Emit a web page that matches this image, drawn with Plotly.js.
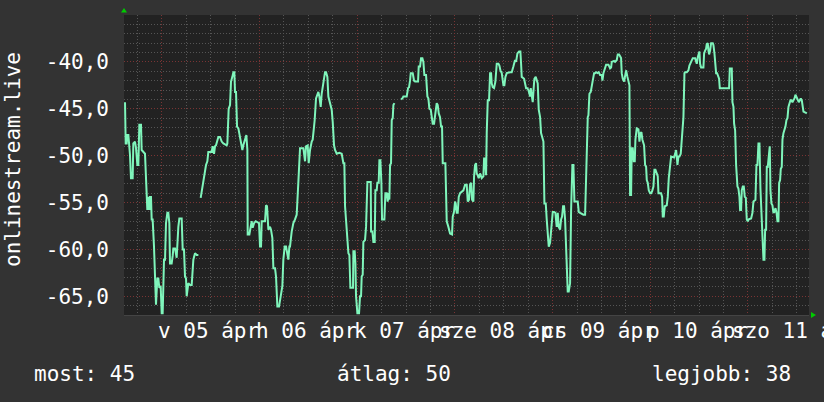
<!DOCTYPE html>
<html>
<head>
<meta charset="utf-8">
<script src="https://cdn.plot.ly/plotly-3.0.1.min.js"></script>
<style>html,body{margin:0;padding:0;background:#333333;}#chart{width:824px;height:402px;}</style>
</head>
<body>
<div id="chart"></div>
<script>
// Hours counted from 2024-04-04 00:00 (local), values in dBm
const day1Hours = [14.95,15.11,15.36,15.52,15.77,15.93,16.17,16.42,16.83,16.99,17.40,17.65,17.98,18.22,18.47,18.88,19.04,19.86,20.11,20.43,20.68,20.93,21.09,21.33,21.50,21.74,22.07,22.32,22.56,22.89,23.14,23.38,23.71,23.96,24.20,24.53,24.78,25.02,25.35,25.59,25.84,26.00,26.41,26.66,26.82,27.23,27.48,27.64,28.05,28.30,28.87,29.12,29.44,29.69,29.94,30.10,30.51,30.92,31.33,31.74,32.15,32.56,32.97];
const day1Values = [-44.3,-48.7,-48.7,-47.8,-47.8,-48.7,-49.9,-52.4,-52.4,-48.7,-48.5,-49.2,-51.0,-51.0,-46.7,-46.7,-49.4,-49.8,-52.2,-55.8,-54.4,-55.8,-54.4,-54.4,-56.8,-56.8,-59.7,-62.9,-65.9,-63.1,-63.1,-64.1,-63.9,-66.8,-66.8,-61.1,-61.1,-57.2,-56.1,-56.1,-57.2,-61.5,-61.5,-60.7,-59.9,-59.9,-60.9,-60.9,-57.6,-56.7,-56.7,-60.0,-60.0,-62.9,-63.1,-65.0,-63.6,-63.8,-63.8,-61.1,-60.4,-60.6,-60.6];

const day2Hours = [33.54,34.03,34.36,34.85,35.18,35.42,36.24,36.49,36.82,37.06,37.31,37.64,37.88,38.29,38.70,39.11,39.93,40.09,40.42,40.75,40.99,41.32,41.57,41.81,41.98,42.22,42.47,42.80,43.20,43.45,43.78,44.02,44.43,44.76,45.01,45.09,45.50,45.66,46.07,46.32,46.65,47.05,47.87,48.12,48.37,48.53,49.35,49.59,49.84,50.17,50.58,50.82,51.15,51.40,51.81,52.05,52.38,52.79,53.20,53.61,53.85,54.18,54.51,54.84,55.08,55.33,55.49,55.90,56.31,56.72,57.13,57.54,57.95,58.77,59.18,59.42,59.83,60.08,60.41,60.82,61.06,61.39,61.55,61.88,62.21,62.45,62.70,63.03,63.27,63.68,64.09,64.34,64.67,64.91,65.32,65.73,65.98,66.30,66.55,66.96,67.61];
const day2Values = [-54.5,-53.1,-51.9,-51.0,-50.6,-49.6,-49.6,-49.0,-49.8,-49.0,-48.9,-48.5,-48.0,-48.0,-48.5,-48.7,-48.9,-48.7,-45.0,-44.6,-42.1,-41.6,-41.1,-41.1,-43.2,-43.2,-46.9,-47.1,-48.2,-48.7,-49.4,-48.9,-48.3,-47.8,-49.4,-58.4,-58.4,-57.9,-57.0,-57.7,-57.2,-57.0,-57.2,-59.7,-59.7,-57.0,-57.0,-55.3,-55.4,-57.9,-57.6,-57.9,-58.8,-62.0,-62.0,-62.9,-66.1,-66.1,-65.0,-63.9,-61.1,-59.7,-59.7,-60.4,-61.1,-59.7,-59.7,-58.1,-57.2,-56.8,-56.3,-52.8,-49.2,-49.2,-50.6,-49.0,-48.9,-50.8,-49.4,-48.5,-48.3,-46.9,-46.2,-43.9,-43.5,-43.2,-43.7,-44.8,-43.4,-42.0,-41.1,-41.1,-41.6,-43.7,-44.3,-45.1,-46.4,-48.9,-49.4,-49.8,-49.7];

const day3Hours = [68.19,68.60,68.84,69.01,69.42,69.83,70.07,70.32,70.97,71.06,71.38,71.55,71.71,72.04,72.45,72.69,72.94,73.10,73.35,73.51,73.92,74.17,74.50,75.32,75.40,75.73,75.97,76.30,76.46,76.79,76.95,77.28,77.45,77.69,77.94,78.10,78.67,78.92,79.25,79.49,79.74,79.90,80.07,80.31,80.48,80.72,80.89,81.13];
const day3Values = [-49.8,-50.8,-50.8,-55.4,-58.1,-60.4,-60.6,-64.1,-64.1,-60.2,-60.2,-61.5,-65.0,-66.8,-66.8,-65.0,-65.0,-62.9,-62.7,-59.2,-59.0,-57.6,-52.8,-52.8,-58.1,-58.1,-59.2,-59.2,-53.7,-53.7,-52.9,-52.9,-50.5,-50.5,-52.9,-56.8,-56.8,-54.0,-54.0,-54.9,-54.0,-54.7,-51.0,-50.8,-46.2,-46.0,-44.6,-44.4];

const day4Hours = [82.77,83.10,83.34,84.16,84.49,84.74,84.98,85.15,85.64,85.96,86.21,86.95,87.11,87.44,87.68,88.01,88.26,88.50,88.91,89.24,89.49,89.73,90.06,90.31,90.55,90.88,91.12,91.37,91.53,91.78,92.03,92.35,92.60,92.84,93.01,93.66,93.99,94.40,94.81,95.30,95.47,95.79,96.04,96.20,96.45,96.69,96.94,97.27,98.09,98.50,98.91,99.15,99.48,99.72,99.97,100.22,100.54,100.71,100.95,101.20,101.36,101.61,101.85,102.18,102.59,103.00,103.17,103.41,103.66,103.82,104.07,104.39,104.64,104.89,105.05,105.30,105.62,105.95];
const day4Values = [-44.0,-43.9,-43.7,-43.7,-42.8,-42.7,-42.0,-41.2,-41.2,-42.0,-42.1,-42.1,-40.5,-40.5,-39.6,-39.6,-40.0,-41.4,-41.4,-43.7,-43.9,-45.0,-45.1,-45.9,-46.6,-46.6,-45.5,-45.1,-44.4,-44.6,-45.5,-45.9,-46.9,-46.9,-50.8,-50.8,-57.0,-57.6,-58.3,-58.4,-56.5,-56.0,-54.9,-55.1,-56.1,-56.1,-54.4,-54.0,-53.7,-53.1,-53.1,-54.9,-54.7,-53.1,-52.9,-54.7,-54.9,-52.2,-51.0,-50.8,-51.9,-52.1,-52.4,-51.9,-52.4,-52.2,-50.3,-50.3,-52.1,-47.6,-44.1,-44.1,-41.2,-41.2,-42.3,-42.7,-42.8,-42.1];

const day5Hours = [106.28,106.69,106.93,107.18,107.51,107.92,108.16,108.41,108.74,109.56,109.96,110.37,110.78,111.03,111.36,111.77,112.09,112.26,112.42,113.00,113.24,113.49,113.81,114.06,114.31,114.47,114.63,114.88,115.12,115.37,115.53,115.86,116.11,116.35,116.60,116.93,117.17,117.50,117.75,117.99,118.32,118.56,118.81,119.06,119.38,119.63,119.87,120.04,120.37,120.69,121.02,121.27,121.51,121.84,122.09,122.33,122.58,122.82,123.07,123.31,123.48,123.72,123.97,124.13,124.30,124.55,124.87,125.12,125.36,126.18,126.43,126.76,127.58,127.99];
const day5Values = [-40.2,-40.2,-40.4,-40.9,-41.2,-42.5,-42.5,-41.6,-41.2,-41.1,-41.1,-40.5,-39.8,-40.0,-39.1,-38.9,-38.9,-40.2,-41.6,-41.8,-42.5,-42.8,-42.8,-43.0,-43.4,-43.7,-42.8,-43.9,-44.3,-42.7,-41.8,-41.6,-42.1,-42.3,-45.1,-45.9,-47.6,-48.0,-48.5,-55.1,-55.1,-56.8,-57.9,-59.7,-59.3,-57.9,-56.3,-56.0,-56.0,-56.1,-57.6,-56.1,-57.6,-57.9,-56.8,-56.5,-55.4,-55.4,-56.8,-59.7,-63.2,-64.5,-64.5,-63.6,-63.6,-55.8,-51.0,-51.0,-54.9,-54.9,-56.0,-56.1,-56.3,-56.3];

const day6Hours = [128.23,128.40,128.64,128.81,129.05,129.38,129.62,129.87,130.20,130.44,130.69,131.02,131.34,131.67,132.08,132.25,132.49,132.90,133.15,133.72,133.97,134.13,134.38,134.54,135.11,135.36,135.77,136.01,136.34,136.59,136.83,136.99,137.24,137.57,137.82,138.06,138.39,138.63,138.88,139.04,139.29,139.45,139.70,139.94,140.19,140.35,140.68,141.09,141.34,141.58,141.83,142.07,142.32,142.48,142.73,142.98,143.14,143.39,143.63,143.96,144.20,144.45,144.78,145.02,145.27,145.60,145.84,146.01,146.66,146.91,147.07,147.32,147.56,148.05,148.30,148.55,148.87,149.12,149.86,150.10,150.35,150.51,150.68,150.92,151.17,151.49,151.74,151.99,152.15];
const day6Values = [-51.2,-51.0,-45.9,-45.7,-43.4,-43.2,-42.3,-42.0,-41.2,-41.2,-41.1,-41.2,-41.1,-41.4,-41.4,-42.0,-41.2,-40.7,-40.3,-40.3,-40.5,-40.7,-40.6,-40.0,-39.9,-40.0,-39.8,-39.2,-39.2,-39.4,-39.6,-41.2,-41.8,-42.1,-41.6,-40.9,-41.6,-42.3,-42.5,-54.2,-54.2,-49.2,-49.2,-50.6,-50.6,-48.3,-47.1,-47.2,-48.5,-47.6,-47.5,-48.3,-48.9,-48.9,-51.0,-51.2,-52.6,-52.9,-53.7,-54.0,-54.0,-53.8,-53.3,-51.5,-51.5,-51.9,-52.2,-54.0,-54.0,-54.4,-56.5,-56.5,-55.4,-55.3,-54.4,-52.4,-50.8,-50.1,-50.2,-49.6,-49.4,-50.1,-51.0,-50.1,-50.1,-49.8,-48.3,-46.0,-45.9];

const day7Hours = [152.40,152.56,152.97,153.38,153.62,153.95,154.20,154.44,155.02,155.26,155.43,155.67,155.92,156.08,156.24,156.49,157.06,157.23,157.47,157.72,157.88,158.13,158.29,158.46,158.70,158.95,159.36,159.52,159.77,160.01,160.18,160.42,160.67,160.91,161.08,161.32,163.37,163.54,164.03,164.19,164.44,164.60,164.85,165.09,165.42,165.66,165.91,166.07,166.32,166.48,166.73,166.98,167.22,167.47,167.71,167.96,168.20,168.78,169.11,169.35,169.84,170.09,170.33,170.58,170.83,171.07,171.32,171.56,171.81,172.05,172.22,172.46,172.63,172.87,173.12,173.36,173.53,173.77,174.02,174.27,174.51,174.76,175.00,175.25,175.49,175.66,175.90,176.07,176.31,176.48,176.72,176.97,177.21,177.46,177.71,177.95,178.20,178.44,178.69,178.93,179.18,179.43,179.67,180.00,180.25,180.49,180.74,180.98,181.23,181.47,181.64,182.13,182.46];
const day7Values = [-41.2,-41.1,-41.1,-40.9,-40.4,-40.0,-39.8,-39.6,-39.6,-40.2,-40.2,-39.5,-38.9,-38.9,-40.2,-40.6,-40.6,-39.1,-38.8,-38.6,-38.1,-38.0,-38.8,-39.2,-38.8,-38.0,-38.0,-38.2,-39.1,-40.2,-41.2,-41.2,-41.6,-41.8,-42.8,-42.8,-42.8,-40.7,-40.7,-44.3,-44.8,-46.6,-47.3,-51.0,-53.3,-53.5,-54.4,-55.8,-55.8,-53.7,-53.3,-53.3,-54.4,-54.5,-56.8,-57.0,-56.8,-56.7,-56.1,-54.9,-54.7,-51.0,-51.0,-48.7,-48.7,-53.5,-56.5,-60.0,-61.1,-61.1,-57.9,-57.9,-51.2,-51.2,-49.8,-49.0,-53.7,-55.1,-55.3,-56.1,-56.0,-55.6,-56.0,-57.0,-57.0,-52.9,-52.6,-51.4,-51.2,-48.3,-47.6,-47.3,-46.9,-46.2,-46.0,-44.8,-44.4,-44.1,-44.1,-44.3,-44.1,-43.9,-43.5,-43.9,-44.1,-44.3,-44.1,-43.9,-44.1,-45.0,-45.3,-45.4,-45.5];

// Gaps (no data) between these hours
const gapHours = [33.25, 82.0];

const yTickVals = [-65, -60, -55, -50, -45, -40];
const yTickText = ["-65,0", "-60,0", "-55,0", "-50,0", "-45,0", "-40,0"];
const dayNoonHours = [36, 60, 84, 108, 132, 156, 180];
const dayLabels = ["v 05 ápr", "h 06 ápr", "k 07 ápr", "sze 08 ápr", "cs 09 ápr", "p 10 ápr", "szo 11 ápr"];
const yTitle = "onlinestream.live";
const summaryLabels = ["most: 45", "átlag: 50", "legjobb: 38"];

// assemble series with null breaks at gaps
const xs = [], ys = [];
function add(h, v) { for (let i = 0; i < h.length; i++) { xs.push(h[i]); ys.push(v[i]); } }
add(day1Hours, day1Values);
xs.push(gapHours[0]); ys.push(null);
add(day2Hours, day2Values);
add(day3Hours, day3Values);
xs.push(gapHours[1]); ys.push(null);
add(day4Hours, day4Values);
add(day5Hours, day5Values);
add(day6Hours, day6Values);
add(day7Hours, day7Values);

const FONT = "DejaVu Sans Mono, Liberation Mono, monospace";
const W = 685, H = 300, L = 124, T = 15;

const annotations = [];
for (let i = 0; i < dayLabels.length; i++) {
  annotations.push({
    x: dayNoonHours[i], xref: 'x', y: 0, yref: 'paper',
    yanchor: 'top', xanchor: 'center', yshift: -2, xshift: -2,
    text: dayLabels[i], showarrow: false,
    font: {family: FONT, size: 21, color: '#ffffff'}
  });
}
annotations.push({
  x: (13 - L) / W, xref: 'paper', y: (T + H - 159) / H, yref: 'paper',
  xanchor: 'center', yanchor: 'middle', textangle: -90,
  text: yTitle, showarrow: false,
  font: {family: FONT, size: 21, color: '#ffffff'}
});
const sumY = (T + H - 374) / H;
annotations.push({x: (32 - L) / W, xref: 'paper', y: sumY, yref: 'paper', xanchor: 'left', yanchor: 'middle',
  text: summaryLabels[0], showarrow: false, font: {family: FONT, size: 21, color: '#ffffff'}});
annotations.push({x: (335 - L) / W, xref: 'paper', y: sumY, yref: 'paper', xanchor: 'left', yanchor: 'middle',
  text: summaryLabels[1], showarrow: false, font: {family: FONT, size: 21, color: '#ffffff'}});
annotations.push({x: (793 - L) / W, xref: 'paper', y: sumY, yref: 'paper', xanchor: 'right', yanchor: 'middle',
  text: summaryLabels[2], showarrow: false, font: {family: FONT, size: 21, color: '#ffffff'}});

const shapes = [
  {type: 'path', xref: 'paper', yref: 'paper', xsizemode: 'pixel', ysizemode: 'pixel',
   xanchor: 0, yanchor: 1, path: 'M-3,2.5 L3,2.5 L0,7 Z', fillcolor: '#00cc00', line: {width: 0}},
  {type: 'path', xref: 'paper', yref: 'paper', xsizemode: 'pixel', ysizemode: 'pixel',
   xanchor: 1, yanchor: 0, path: 'M2,3 L2,-3 L7,0 Z', fillcolor: '#00cc00', line: {width: 0}}
];

const trace = {
  x: xs, y: ys, type: 'scatter', mode: 'lines',
  line: {color: '#7ff5bb', width: 2}, connectgaps: false, hoverinfo: 'skip'
};

const layout = {
  width: 824, height: 402,
  margin: {l: L, r: 824 - L - W, t: T, b: 402 - T - H, pad: 0},
  paper_bgcolor: '#333333', plot_bgcolor: '#222222',
  showlegend: false,
  font: {family: FONT, color: '#ffffff', size: 21},
  xaxis: {
    range: [14.7, 183.0], tickmode: 'linear', tick0: 0, dtick: 24,
    showticklabels: false, ticks: '', zeroline: false,
    showgrid: true, gridcolor: '#7a3434', griddash: '1px,2px', gridwidth: 1,
    minor: {tickmode: 'linear', tick0: 0, dtick: 6, showgrid: true, gridcolor: '#555555', griddash: '1px,2px', gridwidth: 1},
    showline: true, linecolor: '#444444', linewidth: 1, fixedrange: true
  },
  yaxis: {
    range: [-67, -35], tickmode: 'array', tickvals: yTickVals, ticktext: yTickText,
    ticks: '', zeroline: false, ticklabelstandoff: 14,
    tickfont: {family: FONT, size: 21, color: '#ffffff'},
    showgrid: true, gridcolor: '#7a3434', griddash: '1px,2px', gridwidth: 1,
    minor: {tickmode: 'linear', tick0: 0, dtick: 1, showgrid: true, gridcolor: '#555555', griddash: '1px,2px', gridwidth: 1},
    showline: false, fixedrange: true
  },
  annotations: annotations,
  shapes: shapes
};

Plotly.newPlot('chart', [trace], layout, {staticPlot: true, displayModeBar: false});
</script>
</body>
</html>
